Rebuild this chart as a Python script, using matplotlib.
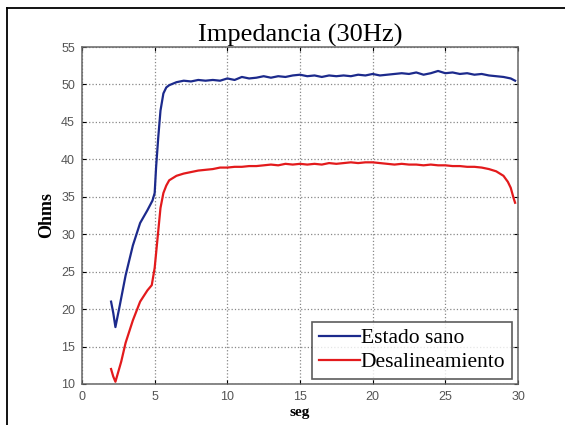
import matplotlib
matplotlib.use("Agg")
import matplotlib.pyplot as plt
from matplotlib.lines import Line2D

# ---- data ----
t_sano = [2.0, 2.15, 2.3, 2.6, 3.0, 3.5, 4.0, 4.5, 4.85, 5.0, 5.1, 5.25, 5.4, 5.6, 5.8,
          6.0, 6.5, 7.0, 7.5, 8.0, 8.5, 9.0, 9.5, 10.0, 10.5, 11.0, 11.5, 12.0, 12.5,
          13.0, 13.5, 14.0, 14.5, 15.0, 15.5, 16.0, 16.5, 17.0, 17.5, 18.0, 18.5, 19.0,
          19.5, 20.0, 20.5, 21.0, 21.5, 22.0, 22.5, 23.0, 23.5, 24.0, 24.5, 25.0, 25.5,
          26.0, 26.5, 27.0, 27.5, 28.0, 28.5, 29.0, 29.5, 29.8]
z_sano = [21.0, 19.5, 17.6, 20.5, 24.5, 28.5, 31.5, 33.2, 34.5, 35.5, 39.0, 43.0, 46.5, 48.8, 49.6,
          49.9, 50.3, 50.5, 50.4, 50.6, 50.5, 50.6, 50.5, 50.8, 50.6, 51.0, 50.8, 50.9, 51.1,
          50.9, 51.1, 51.0, 51.2, 51.3, 51.1, 51.2, 51.0, 51.2, 51.1, 51.2, 51.1, 51.3,
          51.2, 51.4, 51.2, 51.3, 51.4, 51.5, 51.4, 51.6, 51.3, 51.5, 51.8, 51.5, 51.6,
          51.4, 51.5, 51.3, 51.4, 51.2, 51.1, 51.0, 50.8, 50.5]

t_desal = [2.0, 2.15, 2.3, 2.7, 3.0, 3.5, 4.0, 4.5, 4.8, 5.0, 5.2, 5.4, 5.6, 5.8,
           6.0, 6.5, 7.0, 7.5, 8.0, 8.5, 9.0, 9.5, 10.0, 10.5, 11.0, 11.5, 12.0, 12.5,
           13.0, 13.5, 14.0, 14.5, 15.0, 15.5, 16.0, 16.5, 17.0, 17.5, 18.0, 18.5, 19.0,
           19.5, 20.0, 20.5, 21.0, 21.5, 22.0, 22.5, 23.0, 23.5, 24.0, 24.5, 25.0, 25.5,
           26.0, 26.5, 27.0, 27.5, 28.0, 28.5, 29.0, 29.3, 29.5, 29.7, 29.8]
z_desal = [12.0, 11.0, 10.3, 13.0, 15.5, 18.5, 21.0, 22.5, 23.2, 25.5, 29.5, 33.5, 35.5, 36.5,
           37.2, 37.8, 38.1, 38.3, 38.5, 38.6, 38.7, 38.9, 38.9, 39.0, 39.0, 39.1, 39.1, 39.2,
           39.3, 39.2, 39.4, 39.3, 39.4, 39.3, 39.4, 39.3, 39.5, 39.4, 39.5, 39.6, 39.5,
           39.6, 39.6, 39.5, 39.4, 39.3, 39.4, 39.3, 39.3, 39.2, 39.3, 39.2, 39.2, 39.1,
           39.1, 39.0, 39.0, 38.9, 38.7, 38.4, 37.8, 37.0, 36.2, 34.8, 34.2]

xticks = [0, 5, 10, 15, 20, 25, 30]
yticks = [10, 15, 20, 25, 30, 35, 40, 45, 50, 55]

fig = plt.figure(figsize=(5.65, 4.25), dpi=100)
W, H = 565, 425
ax = fig.add_axes([82 / W, 1 - 384 / H, (518 - 82) / W, (384 - 47) / H])

ax.plot(t_sano, z_sano, color="#1c2a8c", lw=1.6, label="Estado sano")
ax.plot(t_desal, z_desal, color="#e31a1c", lw=1.6, label="Desalineamiento")

ax.set_xlim(0, 30)
ax.set_ylim(10, 55)
ax.set_xticks(xticks)
ax.set_yticks(yticks)
ax.tick_params(direction="in", labelsize=9, labelcolor="#555555", length=3,
               top=True, right=True, pad=5)
for lab in ax.get_xticklabels() + ax.get_yticklabels():
    lab.set_family("Liberation Sans")
ax.grid(True, linestyle=":", color="#888888", linewidth=0.9)
for s in ax.spines.values():
    s.set_color("#666666")
    s.set_linewidth(1.1)

ax.set_title("Impedancia (30Hz)", family="Liberation Serif", fontsize=19, pad=4)
ax.set_ylabel("Ohms", family="Liberation Serif", fontsize=13, fontweight="bold", labelpad=4)
ax.set_xlabel("seg", family="Liberation Serif", fontsize=11, fontweight="bold", labelpad=2)

leg = ax.legend(loc="lower right", bbox_to_anchor=(0.986, 0.015), frameon=True, fancybox=False,
                prop={"family": "Liberation Serif", "size": 15.5}, handlelength=1.9,
                handletextpad=0.05, borderpad=0.3, labelspacing=0.2, borderaxespad=0)
leg.get_frame().set_edgecolor("#333333")
leg.get_frame().set_linewidth(1.2)

# outer frame (left and top edges visible)
fig.add_artist(Line2D([7 / W, 7 / W], [0, 1 - 8 / H], transform=fig.transFigure,
                      color="black", lw=1.3))
fig.add_artist(Line2D([7 / W, 1], [1 - 8 / H, 1 - 8 / H], transform=fig.transFigure,
                      color="black", lw=1.3))

fig.savefig("out.png", dpi=100)
